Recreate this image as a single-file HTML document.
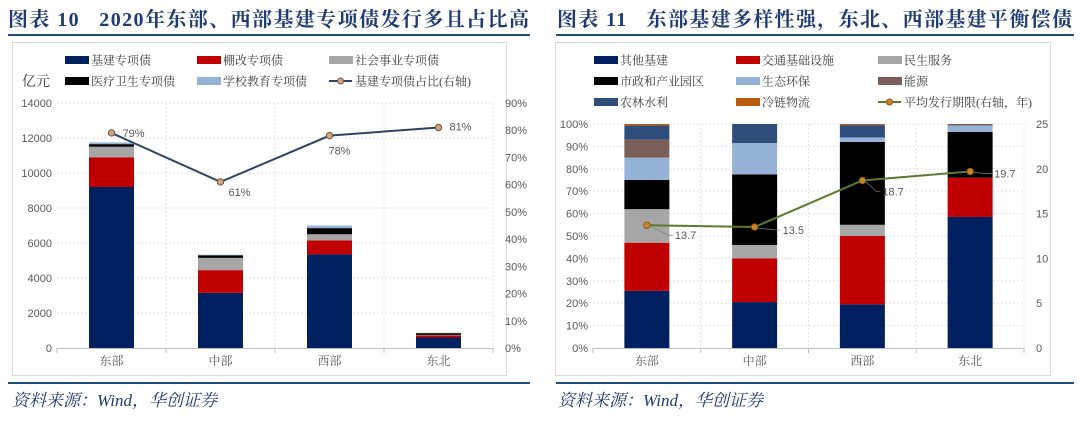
<!DOCTYPE html>
<html><head><meta charset="utf-8">
<style>
body{margin:0;background:#fff;width:1080px;height:418px;overflow:hidden;font-family:"Liberation Serif","Noto Serif CJK SC",serif}
svg text{font-family:"Liberation Serif","Noto Serif CJK SC",serif}
.num{font-family:"Liberation Sans","Noto Sans CJK SC",sans-serif;font-size:11px;fill:#595959}
.lg{font-size:12px;fill:#404040}
</style></head>
<body>
<svg id="svg" width="1080" height="418" xmlns="http://www.w3.org/2000/svg">
<text x="8" y="26" font-size="20" font-weight="bold" fill="#1f3b73" textLength="521" lengthAdjust="spacing" xml:space="preserve">图表 10   2020年东部、西部基建专项债发行多且占比高</text>
<text x="557" y="26" font-size="20" font-weight="bold" fill="#1f3b73" textLength="515" lengthAdjust="spacing" xml:space="preserve">图表 11   东部基建多样性强，东北、西部基建平衡偿债</text>
<rect x="8" y="34" width="522" height="2" fill="#1f4e79"/>
<rect x="556" y="34" width="518" height="2" fill="#1f4e79"/>
<rect x="12.5" y="42.5" width="494" height="333" fill="#fff" stroke="#d9d9d9"/>
<rect x="555.5" y="42.5" width="495" height="333" fill="#fff" stroke="#d9d9d9"/>
<rect x="8" y="382" width="522" height="2" fill="#1f4e79"/>
<rect x="556" y="382" width="518" height="2" fill="#1f4e79"/>
<text x="12" y="406" font-size="17" font-style="italic" fill="#1f3b73">资料来源：Wind，华创证券</text>
<text x="558" y="406" font-size="17" font-style="italic" fill="#1f3b73">资料来源：Wind，华创证券</text>
<g id="left"></g><g id="right"></g>
</svg>
<script>
// ---- Left chart data ----
const leftCategories = ["东部","中部","西部","东北"];
const leftSeriesNames = ["基建专项债","棚改专项债","社会事业专项债","医疗卫生专项债","学校教育专项债"];
const leftInfra = [9200,3150,5350,600];
const leftShanty = [1700,1300,800,120];
const leftSocial = [600,700,350,30];
const leftMedical = [150,150,350,100];
const leftSchool = [100,30,150,20];
const leftShare = [79,61,78,81];
const leftYTicks = [0,2000,4000,6000,8000,10000,12000,14000];
const leftY2Ticks = ["0%","10%","20%","30%","40%","50%","60%","70%","80%","90%"];
// ---- Right chart data ----
const rightCategories = ["东部","中部","西部","东北"];
const rightSeriesNames = ["其他基建","交通基础设施","民生服务","市政和产业园区","生态环保","能源","农林水利","冷链物流"];
const rightOther = [25.5,20.5,19.5,58.5];
const rightTransport = [21.5,19.5,30.5,17.5];
const rightLivelihood = [15,6,5,0];
const rightMunicipal = [13,31.5,37,20.5];
const rightEco = [10,14,2,2.8];
const rightEnergy = [8,0,0,0.7];
const rightAgri = [6.3,8.5,5.5,0];
const rightCold = [0.7,0,0.5,0];
const rightTerm = [13.7,13.5,18.7,19.7];
const rightYTicks = [0,10,20,30,40,50,60,70,80,90,100];
const rightY2Ticks = [0,5,10,15,20,25];

const NS="http://www.w3.org/2000/svg";
function mk(parent,tag,attrs){const e=document.createElementNS(NS,tag);for(const k in attrs)e.setAttribute(k,attrs[k]);parent.appendChild(e);return e;}

function drawChart(g,o){
  const x0=o.x0,x1=o.x1,yb=o.yb,yt=o.yt,n=o.cats.length,bw=(x1-x0)/n;
  const ys=v=>yb-(v-o.ymin)/(o.ymax-o.ymin)*(yb-yt);
  const y2=v=>yb-v/o.y2max*(yb-yt);
  const xc=i=>x0+bw*(i+0.5);
  o.yTicks.forEach((t,i)=>{
    const y=yb-i*(yb-yt)/(o.yTicks.length-1);
    if(i>0){const l=mk(g,'line',{x1:x0,x2:x1,y1:y,y2:y,stroke:'#e3e3e3','stroke-dasharray':'2,2'});
    
    }
    const tx=mk(g,'text',{x:x0-5,y:y+4,'text-anchor':'end',class:'num'});tx.textContent=o.yLabel(t);
    
    
  });
  o.y2Ticks.forEach((t,i)=>{
    const y=yb-i*(yb-yt)/(o.y2Ticks.length-1);
    const tx=mk(g,'text',{x:x1+12,y:y+4,class:'num'});tx.textContent=t;
    
    
  });
  for(let i=1;i<=n;i++){const l=mk(g,'line',{x1:x0+bw*i,x2:x0+bw*i,y1:yt,y2:yb,stroke:'#e3e3e3','stroke-dasharray':'2,2'});
    
    }
  o.cats.forEach((c,i)=>{
    let acc=0;
    o.series.forEach((s,k)=>{
      const v=s[i];if(v<=0){return;}
      const yA=ys(acc),yB=ys(acc+v);acc+=v;
      const r=mk(g,'rect',{x:xc(i)-o.barW/2,y:yB,width:o.barW,height:yA-yB,fill:o.colors[k]});
      
      
    });
    const tx=mk(g,'text',{x:xc(i),y:yb+17,'text-anchor':'middle','font-size':12,fill:'#595959'});tx.textContent=c;
    
    
  });
  const ax=mk(g,'line',{x1:x0,x2:x1,y1:yb+0.5,y2:yb+0.5,stroke:'#bfbfbf'});
  
  
  for(let i=0;i<=n;i++){const t=mk(g,'line',{x1:x0+bw*i,x2:x0+bw*i,y1:yb,y2:yb+5,stroke:'#bfbfbf'});
    
    }
  const pts=o.line.map((v,i)=>xc(i)+','+y2(v)).join(' ');
  const pl=mk(g,'polyline',{points:pts,fill:'none',stroke:o.lineColor,'stroke-width':2});
  
  
  o.line.forEach((v,i)=>{
    const c=mk(g,'circle',{cx:xc(i),cy:y2(v),r:3.2,fill:o.dotFill,stroke:o.dotStroke,'stroke-width':1});
    
    
    const off=o.lblOff[i];
    if(o.leader){const ld=mk(g,'polyline',{points:`${xc(i)+3},${y2(v)+1} ${xc(i)+off[0]-6},${y2(v)+off[1]-4} ${xc(i)+off[0]-2},${y2(v)+off[1]-4}`,fill:'none',stroke:'#808080','stroke-width':0.7});
      
      }
    const tx=mk(g,'text',{x:xc(i)+off[0],y:y2(v)+off[1],class:'num'});tx.textContent=o.fmt(v);
    
    
  });
  o.legend.forEach((L,k)=>{
    const lx=o.legCols[k%3],ly=o.legRows[Math.floor(k/3)];
    if(L.line){
      const l=mk(g,'line',{x1:lx,x2:lx+23,y1:ly,y2:ly,stroke:o.lineColor,'stroke-width':2});
      
      
      const c=mk(g,'circle',{cx:lx+11.5,cy:ly,r:3,fill:o.dotFill,stroke:o.dotStroke});
      
      
    }else{
      const r=mk(g,'rect',{x:lx,y:ly-4,width:24,height:8,fill:L.color});
      
      
    }
    const tx=mk(g,'text',{x:lx+26,y:ly+4.5,class:'lg'});tx.textContent=L.name;
    
    
  });
}
const lc=['#002060','#c00000','#a6a6a6','#000000','#95b3d7'];
drawChart(document.getElementById('left'),{key:'left',x0:57,x1:493,yb:348,yt:103,ymin:0,ymax:14000,y2max:90,
  cats:leftCategories,series:[leftInfra,leftShanty,leftSocial,leftMedical,leftSchool],colors:lc,barW:45,
  yTicks:leftYTicks,yLabel:t=>t,y2Ticks:leftY2Ticks,line:leftShare,lineColor:'#2e4464',dotFill:'#e0a070',dotStroke:'#5a5a5a',
  fmt:v=>v+'%',lblOff:[[11,4],[8,14],[-1,19],[11,3]],leader:false,
  legend:leftSeriesNames.map((n,k)=>({name:n,color:lc[k]})).concat([{name:'基建专项债占比(右轴)',line:true}]),
  legCols:[65,197,329],legRows:[60,81]});
const rc=['#002060','#c00000','#a6a6a6','#000000','#95b3d7','#7b5e57','#2e4d7b','#b85c10'];
drawChart(document.getElementById('right'),{key:'right',x0:593,x1:1024,yb:348,yt:124,ymin:0,ymax:100,y2max:25,
  cats:rightCategories,series:[rightOther,rightTransport,rightLivelihood,rightMunicipal,rightEco,rightEnergy,rightAgri,rightCold],colors:rc,barW:45,
  yTicks:rightYTicks,yLabel:t=>t+'%',y2Ticks:rightY2Ticks,line:rightTerm,lineColor:'#5f7a30',dotFill:'#c8862a',dotStroke:'#8a5a10',
  fmt:v=>v.toFixed(1),lblOff:[[28,14],[28,7],[20,15],[24,6]],leader:true,
  legend:rightSeriesNames.map((n,k)=>({name:n,color:rc[k]})).concat([{name:'平均发行期限(右轴，年)',line:true}]),
  legCols:[594,736,878],legRows:[60,81,102]});
const yl=document.createElementNS(NS,'text');
yl.setAttribute('x',22);yl.setAttribute('y',86);yl.setAttribute('font-size',14);yl.setAttribute('fill','#404040');
yl.textContent='亿元';


document.getElementById('left').appendChild(yl);
</script>
</body></html>
